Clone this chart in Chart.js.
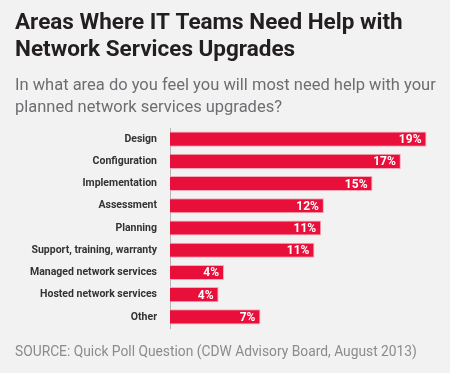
<!DOCTYPE html>
<html>
<head>
<meta charset="utf-8">
<script src="https://cdn.jsdelivr.net/npm/chart.js@4/dist/chart.umd.min.js"></script>
<style>
  html, body { margin: 0; padding: 0; background: #f2f2f2; }
  #wrap { width: 450px; height: 373px; position: relative; }
</style>
</head>
<body>
<div id="wrap"><canvas id="chart"></canvas></div>
<script>
// chart data
const titleLines = ['Areas Where IT Teams Need Help with', 'Network Services Upgrades'];
const subtitleLines = ['In what area do you feel you will most need help with your', 'planned network services upgrades?'];
const sourceText = 'SOURCE: Quick Poll Question (CDW Advisory Board, August 2013)';

const categories = ['Design', 'Configuration', 'Implementation', 'Assessment', 'Planning',
  'Support, training, warranty', 'Managed network services', 'Hosted network services', 'Other'];
// bar lengths as measured in the picture
const values = [19.0, 17.1, 15.0, 11.4, 11.2, 10.7, 4.0, 3.6, 6.7];
// printed labels
const valueLabels = ['19%', '17%', '15%', '12%', '11%', '11%', '4%', '4%', '7%'];

const RED = '#e8103a';

// draws the headings, the source line and the white numbers inside bars
const textPlugin = {
  id: 'texts',
  afterDraw(chart) {
    const ctx = chart.ctx;
    ctx.save();
    ctx.textAlign = 'left';
    ctx.textBaseline = 'alphabetic';

    ctx.fillStyle = '#231f20';
    ctx.font = 'bold 22.5px Roboto';
    titleLines.forEach((t, i) => ctx.fillText(t, 15, 29 + i * 27));

    ctx.fillStyle = '#6d6e71';
    ctx.font = '16.5px Roboto';
    subtitleLines.forEach((t, i) => ctx.fillText(t, 15, 90 + i * 22));

    ctx.fillStyle = '#8a8b8d';
    ctx.font = '13.8px Roboto';
    ctx.fillText(sourceText, 15, 356);

    // value labels
    const meta = chart.getDatasetMeta(0);
    ctx.fillStyle = '#ffffff';
    ctx.font = 'bold 12px Roboto';
    ctx.textAlign = 'right';
    ctx.textBaseline = 'middle';
    meta.data.forEach((bar, i) => {
      ctx.fillText(valueLabels[i], bar.x - 5, bar.y + 1);
    });
    ctx.restore();
  }
};

new Chart(document.getElementById('chart'), {
  type: 'bar',
  data: {
    labels: categories,
    datasets: [{
      data: values,
      backgroundColor: RED,
      borderColor: '#f4aab8',
      borderWidth: 1,
      borderSkipped: 'left',
      categoryPercentage: 1.0,
      barPercentage: 0.68
    }]
  },
  options: {
    indexAxis: 'y',
    responsive: true,
    maintainAspectRatio: false,
    animation: false,
    layout: { padding: { top: 128, bottom: 45, left: 0, right: 10 } },
    plugins: {
      legend: { display: false },
      tooltip: { enabled: false }
    },
    scales: {
      x: {
        min: 0,
        max: 20,
        display: false
      },
      y: {
        grid: { display: false },
        border: { display: true, color: '#b5b5b5', width: 1 },
        ticks: {
          color: '#333333',
          padding: 5,
          font: { family: 'Roboto', size: 10.5, weight: 'bold' }
        },
        afterFit(scale) { scale.width = 170; }
      }
    }
  },
  plugins: [textPlugin]
});
</script>
</body>
</html>
